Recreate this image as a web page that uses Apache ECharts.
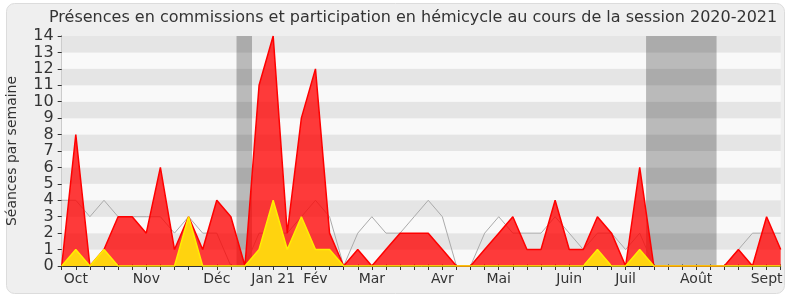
<!DOCTYPE html>
<html><head><meta charset="utf-8">
<script src="https://cdn.jsdelivr.net/npm/echarts@6/dist/echarts.min.js"></script>
<style>html,body{margin:0;padding:0;background:#fff}#c{width:790px;height:300px}</style>
</head><body><div id="c"></div>
<script>
const title = 'Présences en commissions et participation en hémicycle au cours de la session 2020-2021';
const yName = 'Séances par semaine';
const commissions = [0,8,0,1,3,3,2,6,1,3,1,4,3,0,11,14,2,9,12,2,0,1,0,1,2,2,2,1,0,0,1,2,3,1,1,4,1,1,3,2,0,6,0,0,0,0,0,0,1,0,3,1];
const hemicycle = [0,1,0,1,0,0,0,0,0,3,0,0,0,0,1,4,1,3,1,1,0,0,0,0,0,0,0,0,0,0,0,0,0,0,0,0,0,0,1,0,0,1,0,0,0,0,0,0,0,0,0,0];
const median = [4,4,3,4,3,3,3,3,2,3,2,2,0,0,2,2,2,3,4,3,0,2,3,2,2,3,4,3,0,0,2,3,2,2,2,3,2,1,2,2,1,2,0,0,0,0,0,0,1,2,2,2];
const monthIdx = [1,6,11,15,18,22,27,31,36,40,45,50];
const monthTxt = ['Oct','Nov','Déc','Jan 21','Fév','Mar','Avr','Mai','Juin','Juil','Août','Sept'];
const vacStart = [12.4, 41.45];
const vacEnd = [13.5, 46.45];
const yTicks = [0,1,2,3,4,5,6,7,8,9,10,11,12,13,14];

const pairs = a => a.map((v,i)=>[i,v]);
const font = 'DejaVu Sans';
const chart = echarts.init(document.getElementById('c'), null, {renderer:'canvas'});
chart.setOption({
  animation:false,
  textStyle:{fontFamily:font},
  graphic:[{type:'rect',z:-10,shape:{x:6.5,y:3.5,width:778,height:290,r:8},style:{fill:'#efefef',stroke:'#dcdcdc',lineWidth:1}}],
  title:{text:title,left:44,top:5,textStyle:{fontFamily:font,fontSize:16,fontWeight:'normal',color:'#333'}},
  grid:{left:61.7,right:9.3,top:36,bottom:34,containLabel:false,outerBoundsMode:'none'},
  xAxis:[{type:'value',min:0,max:commissions.length-1,interval:1,
    axisLine:{show:true,lineStyle:{color:'#333',width:1}},
    axisTick:{show:true,length:4,lineStyle:{color:'#333'}},
    splitLine:{show:false},
    axisLabel:{fontFamily:font,fontSize:14,color:'#333',margin:6,hideOverlap:false,
      formatter:v=>{const k=monthIdx.indexOf(v);return k>=0?monthTxt[k]:'';}}},
   {type:'value',position:'top',min:0,max:commissions.length-1,interval:1,
    axisLine:{show:false},axisTick:{show:true,length:1.5,lineStyle:{color:'#222'}},axisLabel:{show:false},splitLine:{show:false}}],
  yAxis:[{type:'value',min:0,max:14,interval:1,name:yName,nameLocation:'middle',nameGap:42,
    nameTextStyle:{fontFamily:font,fontSize:14,color:'#333'},
    axisLine:{show:true,lineStyle:{color:'#333'}},
    axisTick:{show:true,length:4,lineStyle:{color:'#333'}},
    axisLabel:{fontFamily:font,fontSize:16,lineHeight:13,color:'#333',margin:8,showMinLabel:true,showMaxLabel:true,hideOverlap:false,
      formatter:v=>yTicks.includes(v)?String(v):''},
    splitLine:{show:false},
    splitArea:{show:true,areaStyle:{color:['#f9f9f9','#e5e5e5']}}},
   {type:'value',position:'right',min:0,max:14,interval:1,axisLine:{show:true,lineStyle:{color:'#cccccc'}},axisTick:{show:false},axisLabel:{show:false},splitLine:{show:false}}],
  series:[
    {type:'line',data:pairs(median),symbol:'none',z:1,lineStyle:{color:'#aaaaaa',width:1},
      markArea:{silent:true,itemStyle:{color:'rgba(0,0,0,0.25)'},
        data:vacStart.map((s,i)=>[{xAxis:s},{xAxis:vacEnd[i]}])}},
    {type:'line',data:pairs(commissions),symbol:'none',z:2,lineStyle:{color:'#ff0000',width:1.5},
      areaStyle:{color:'rgba(255,0,0,0.77)',opacity:1}},
    {type:'line',data:pairs(hemicycle),symbol:'none',z:3,lineStyle:{color:'#ffee00',width:1.5},
      areaStyle:{color:'#ffd30f',opacity:1}}
  ]
});
</script></body></html>
